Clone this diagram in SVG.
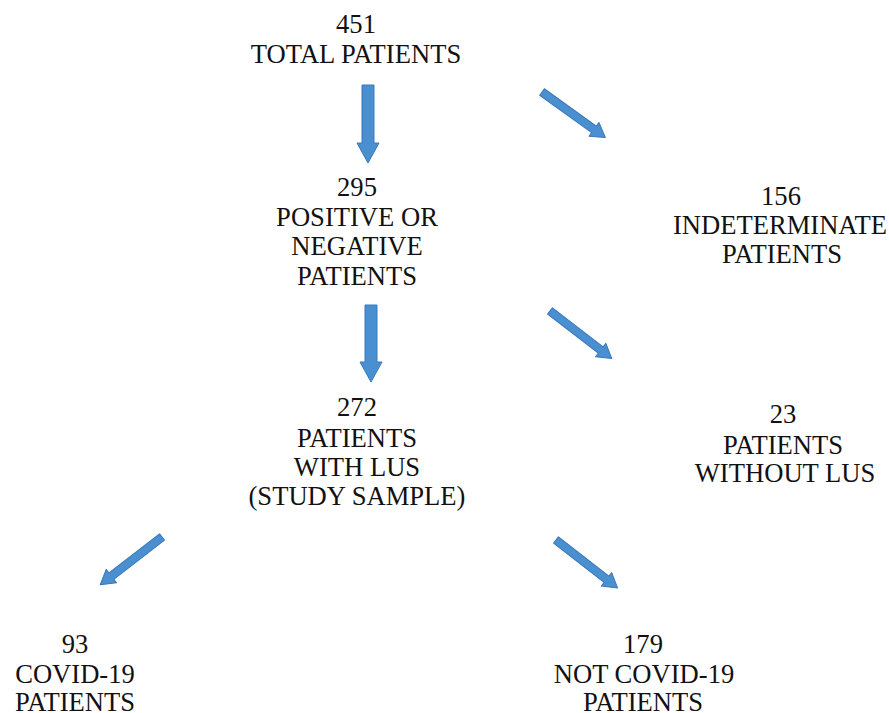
<svg xmlns="http://www.w3.org/2000/svg" xmlns:xlink="http://www.w3.org/1999/xlink" width="889" height="713" viewBox="0 0 889 713">
<defs>
<style>
.t{font-family:"Liberation Serif","Times New Roman",serif;font-size:26.6px;fill:#111;text-anchor:middle}
.arr{fill:#4a8fd0;stroke:#3a78bb;stroke-width:1;stroke-linejoin:round}
</style>
<path id="diag" d="M0,-4 L64,-4 L64,-8.5 L78,0 L64,8.5 L64,4 L0,4 Z"/>
</defs>
<rect width="889" height="713" fill="#ffffff"/>
<g id="connectors" class="arr">
<polygon points="362,85 374,85 374,143 379,143 368,163 357,143 362,143"/>
<polygon points="365,305 377,305 377,362 382,362 371,382 360,362 365,362"/>
<use xlink:href="#diag" href="#diag" transform="translate(542,92) rotate(35.7)"/>
<use xlink:href="#diag" href="#diag" transform="translate(550,311) rotate(37.6)"/>
<use xlink:href="#diag" href="#diag" transform="translate(162,537) rotate(142.3)"/>
<use xlink:href="#diag" href="#diag" transform="translate(556,540) rotate(37.9)"/>
</g>
<g id="n451"><text class="t" x="356" y="33">451</text><text class="t" x="356" y="63">TOTAL PATIENTS</text></g>
<g id="n295"><text class="t" x="357" y="196">295</text><text class="t" x="357" y="226">POSITIVE OR</text><text class="t" x="357" y="255">NEGATIVE</text><text class="t" x="357" y="285">PATIENTS</text></g>
<g id="n156"><text class="t" x="781" y="205">156</text><text class="t" x="780" y="234">INDETERMINATE</text><text class="t" x="782" y="263">PATIENTS</text></g>
<g id="n272"><text class="t" x="357" y="416">272</text><text class="t" x="357" y="447">PATIENTS</text><text class="t" x="357" y="476">WITH LUS</text><text class="t" x="357" y="505">(STUDY SAMPLE)</text></g>
<g id="n23"><text class="t" x="783" y="423">23</text><text class="t" x="783" y="454">PATIENTS</text><text class="t" x="785" y="482">WITHOUT LUS</text></g>
<g id="n93"><text class="t" x="75" y="653">93</text><text class="t" x="75" y="683">COVID-19</text><text class="t" x="75" y="711">PATIENTS</text></g>
<g id="n179"><text class="t" x="643" y="653">179</text><text class="t" x="644" y="683">NOT COVID-19</text><text class="t" x="643" y="711">PATIENTS</text></g>
</svg>
